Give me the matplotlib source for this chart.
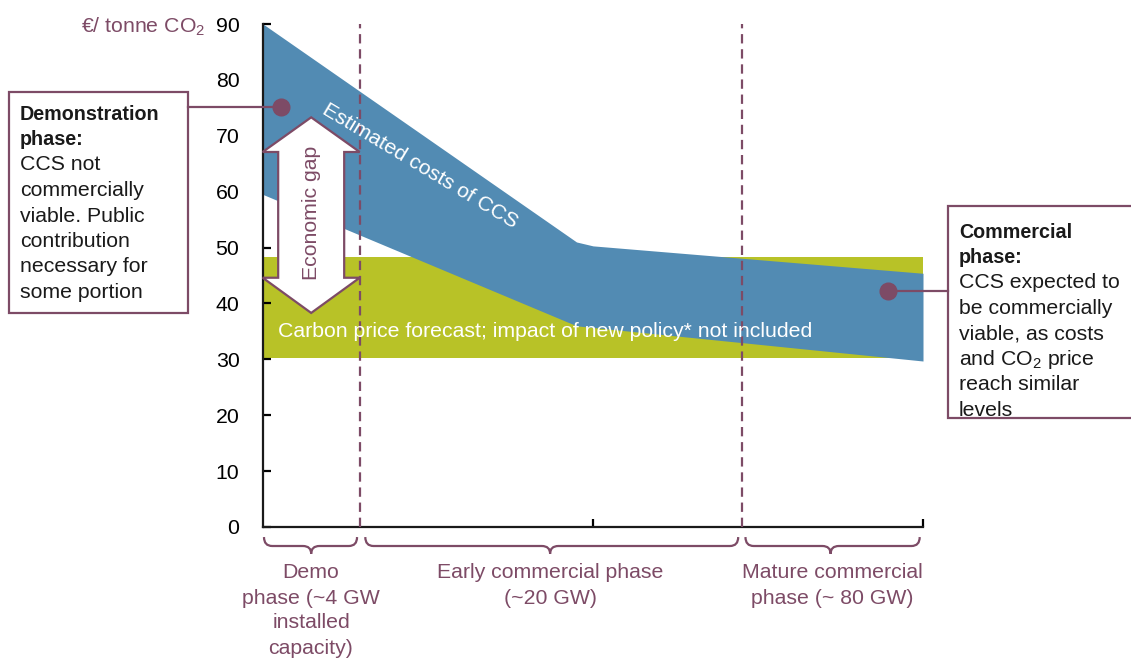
import numpy as np
import matplotlib
matplotlib.use('Agg')
import matplotlib.pyplot as plt
from matplotlib.patches import Rectangle, Polygon, PathPatch
from matplotlib.path import Path

plt.rcParams['font.family'] = ['Liberation Sans', 'DejaVu Sans']
plt.rcParams['mathtext.default'] = 'regular'

BLUE = '#528BB3'
GREEN = '#B8C227'
MAROON = '#7D4B66'
FS = 15.3

# data (x: 0 = start, 1 = middle tick, 2 = end)
cost_x = [0, 0.95, 1.0, 2.0]
cost_high = [90, 51.0, 50.3, 45.4]
cost_low = [59.5, 36.0, 35.7, 29.7]
price_x = [0, 2.0]
price_high = [48.3, 48.3]
price_low = [30.2, 30.2]
phase_bounds = [0.294, 1.45]
yticks = [0, 10, 20, 30, 40, 50, 60, 70, 80, 90]

W, H = 1131, 661
fig = plt.figure(figsize=(W / 100, H / 100), dpi=100)


def fx(px):
    return px / W


def fy(py):
    return 1 - py / H


ax = fig.add_axes([fx(263), fy(527), (923 - 263) / W, (527 - 24) / H])
ax.set_xlim(0, 2)
ax.set_ylim(0, 90)

ax.fill_between(price_x, price_low, price_high, color=GREEN, lw=0, zorder=1)
ax.fill_between(cost_x, cost_low, cost_high, color=BLUE, lw=0, zorder=2)

for xb in phase_bounds:
    ax.plot([xb, xb], [0, 90], color=MAROON, lw=1.6, linestyle=(0, (4.2, 2.6)),
            zorder=3, clip_on=False)

# economic gap double arrow
cx, hw, sw = 0.146, 0.147, 0.1
top_tip, top_base, bot_base, bot_tip = 73.3, 67.1, 44.6, 38.3
arrow = [(cx, top_tip), (cx + hw, top_base), (cx + sw, top_base), (cx + sw, bot_base),
         (cx + hw, bot_base), (cx, bot_tip), (cx - hw, bot_base), (cx - sw, bot_base),
         (cx - sw, top_base), (cx - hw, top_base)]
ax.add_patch(Polygon(arrow, closed=True, facecolor='white', edgecolor=MAROON,
                     lw=1.6, zorder=4, clip_on=False))
ax.text(cx, 56.2, 'Economic gap', rotation=90, color=MAROON, fontsize=FS,
        ha='center', va='center', zorder=5)

ax.text(0.475, 64.6, 'Estimated costs of CCS', rotation=-31, color='white',
        fontsize=FS, ha='center', va='center', zorder=5, rotation_mode='anchor')
ax.text(0.855, 34.9, 'Carbon price forecast; impact of new policy* not included',
        color='white', fontsize=FS, ha='center', va='center', zorder=5)

# markers for call-outs
ax.plot([0.055], [75.1], 'o', color=MAROON, ms=12, zorder=6, clip_on=False)
ax.plot([1.894], [42.2], 'o', color=MAROON, ms=12, zorder=6, clip_on=False)

for s in ['top', 'right']:
    ax.spines[s].set_visible(False)
for s in ['left', 'bottom']:
    ax.spines[s].set_linewidth(1.6)
    ax.spines[s].set_color('#1a1a1a')
ax.set_yticks(yticks)
ax.set_xticks([1, 2])
ax.set_xticklabels([])
ax.tick_params(axis='y', direction='in', length=6, width=1.6, labelsize=FS, pad=17)
ax.tick_params(axis='x', direction='in', length=6, width=1.6)

fig.text(fx(205), fy(27), '€/ tonne CO$_2$', color=MAROON, fontsize=FS,
         ha='right', va='center')


# curly braces under the axis
def brace(x0, x1, xm):
    ytop, ybar, ytip = -1.8, -3.4, -4.8
    r = 0.025
    verts = [(x0, ytop), (x0, ybar), (x0 + r, ybar), (xm - r, ybar),
             (xm, ybar), (xm, ytip), (xm, ybar), (xm + r, ybar),
             (x1 - r, ybar), (x1, ybar), (x1, ytop)]
    codes = [Path.MOVETO, Path.CURVE3, Path.CURVE3, Path.LINETO,
             Path.CURVE3, Path.CURVE3, Path.CURVE3, Path.CURVE3,
             Path.LINETO, Path.CURVE3, Path.CURVE3]
    ax.add_patch(PathPatch(Path(verts, codes), facecolor='none', edgecolor=MAROON,
                           lw=1.6, clip_on=False))


brace(0.003, 0.285, 0.146)
brace(0.31, 1.44, 0.87)
brace(1.462, 1.99, 1.72)

bottom_labels = [
    (311, ['Demo', 'phase (~4 GW', 'installed', 'capacity)']),
    (550, ['Early commercial phase', '(~20 GW)']),
    (832, ['Mature commercial', 'phase (~ 80 GW)']),
]
for xc, lines in bottom_labels:
    for i, line in enumerate(lines):
        fig.text(fx(xc), fy(573 + i * 25), line, color=MAROON, fontsize=FS,
                 ha='center', va='center')

# call-out boxes
fig.add_artist(Rectangle((fx(9), fy(313)), (188 - 9) / W, (313 - 92) / H,
                         transform=fig.transFigure, facecolor='white',
                         edgecolor=MAROON, lw=1.6))
fig.add_artist(plt.Line2D([fx(188), fx(281)], [fy(107), fy(107)],
                          color=MAROON, lw=1.6, transform=fig.transFigure))
fig.add_artist(Rectangle((fx(948), fy(418)), (1140 - 948) / W, (418 - 206) / H,
                         transform=fig.transFigure, facecolor='white',
                         edgecolor=MAROON, lw=1.6, clip_on=False))
fig.add_artist(plt.Line2D([fx(888), fx(948)], [fy(291), fy(291)],
                          color=MAROON, lw=1.6, transform=fig.transFigure))

demo_bold = ['Demonstration', 'phase:']
demo_text = ['CCS not', 'commercially', 'viable. Public', 'contribution',
             'necessary for', 'some portion']
comm_bold = ['Commercial', 'phase:']
comm_text = ['CCS expected to', 'be commercially', 'viable, as costs',
             'and CO$_2$ price', 'reach similar', 'levels']


def box_text(x, y0, bold, normal):
    for i, line in enumerate(bold + normal):
        is_bold = i < len(bold)
        fig.text(fx(x), fy(y0 + i * 25.5), line, color='#1a1a1a',
                 fontsize=14.2 if is_bold else FS, ha='left', va='center',
                 fontweight='bold' if is_bold else 'normal')


box_text(20, 114, demo_bold, demo_text)
box_text(959, 232, comm_bold, comm_text)

fig.savefig('out.png', dpi=100)
